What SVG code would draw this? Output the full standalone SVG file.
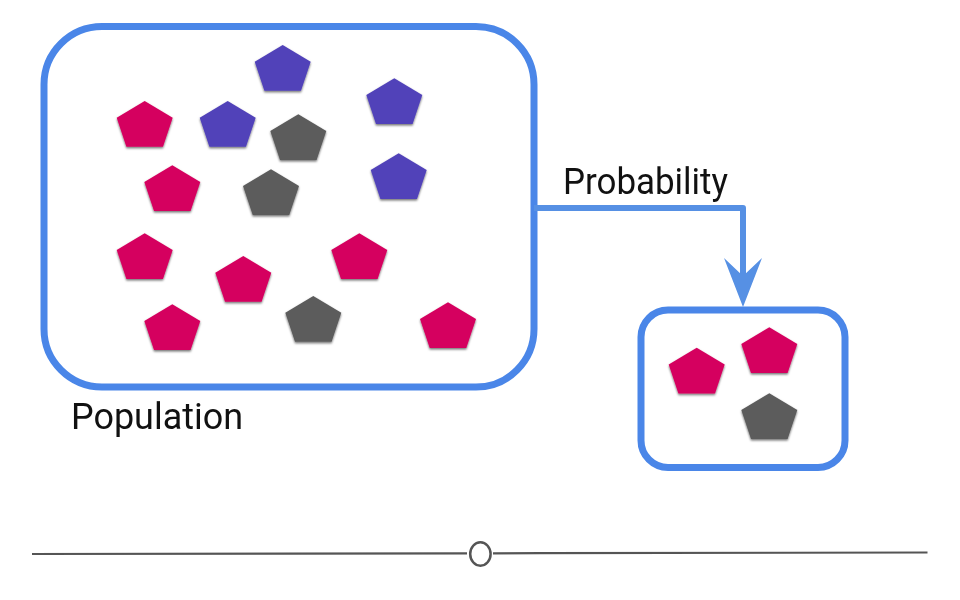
<svg xmlns="http://www.w3.org/2000/svg" xmlns:xlink="http://www.w3.org/1999/xlink" width="960" height="600" viewBox="0 0 960 600">
  <style>
    .box { fill: #ffffff; stroke: #4a86e8; stroke-width: 7; }
    .conn { fill: none; stroke: #5690e4; stroke-width: 6; stroke-linejoin: round; }
    .label { font-family: Roboto, "Liberation Sans", sans-serif; font-size: 36px; fill: #111111; }
    .mag { fill: #d5005f; }
    .pur { fill: #5142b9; }
    .gry { fill: #5b5b5b; }
    .axis { stroke: #555555; stroke-width: 2.2; fill: none; }
  </style>
  <defs>
    <filter id="sh" x="-20%" y="-20%" width="140%" height="150%">
      <feDropShadow dx="0" dy="1.5" stdDeviation="1" flood-color="#000000" flood-opacity="0.55"/>
    </filter>
    <path id="pent" d="M0,0 L28,16.8 L18.3,45.7 L-18.3,45.7 L-28,16.8 Z"/>
    <marker id="arrow" markerUnits="userSpaceOnUse" viewBox="0 -20 50 40" markerWidth="50" markerHeight="40" refX="18" refY="0" orient="auto">
      <path d="M0,-19 L18,0 L0,19 L49,0 Z" fill="#5690e4"/>
    </marker>
  </defs>

  <rect width="960" height="600" fill="#ffffff"/>

  <g id="population">
    <rect class="box" x="44" y="26.5" width="490" height="360.5" rx="58" ry="58"/>
    <g filter="url(#sh)">
      <use href="#pent" class="mag" x="144.7" y="101"/>
      <use href="#pent" class="pur" x="227.7" y="101"/>
      <use href="#pent" class="pur" x="282.7" y="45"/>
      <use href="#pent" class="pur" x="394.3" y="78.3"/>
      <use href="#pent" class="gry" x="298.3" y="114.3"/>
      <use href="#pent" class="mag" x="172.3" y="165.3"/>
      <use href="#pent" class="gry" x="271" y="169.3"/>
      <use href="#pent" class="pur" x="398.7" y="153.3"/>
      <use href="#pent" class="mag" x="144.7" y="233.3"/>
      <use href="#pent" class="mag" x="359.3" y="233.3"/>
      <use href="#pent" class="mag" x="243.3" y="256"/>
      <use href="#pent" class="mag" x="172.3" y="304.3"/>
      <use href="#pent" class="gry" x="313.3" y="296"/>
      <use href="#pent" class="mag" x="448" y="302.3"/>
    </g>
    <text class="label" x="71" y="428.5" textLength="172" lengthAdjust="spacingAndGlyphs">Population</text>
  </g>

  <g id="sample">
    <rect class="box" x="641" y="310" width="204" height="157.5" rx="27" ry="27"/>
    <g filter="url(#sh)">
      <use href="#pent" class="mag" x="696.7" y="347.7"/>
      <use href="#pent" class="mag" x="769.3" y="327.3"/>
      <use href="#pent" class="gry" x="769.3" y="393.3"/>
    </g>
  </g>

  <g id="connectors">
    <path class="conn" d="M534,208 H743 V276" marker-end="url(#arrow)"/>
    <text class="label" x="563" y="193.5" textLength="165" lengthAdjust="spacingAndGlyphs">Probability</text>
  </g>

  <g id="slider">
    <line class="axis" x1="32" y1="554" x2="467" y2="553.4"/>
    <line class="axis" x1="493" y1="553.3" x2="927.5" y2="552.5"/>
    <ellipse cx="480.4" cy="554" rx="10.2" ry="11.7" fill="#ffffff" stroke="#555555" stroke-width="2.5"/>
  </g>
</svg>
